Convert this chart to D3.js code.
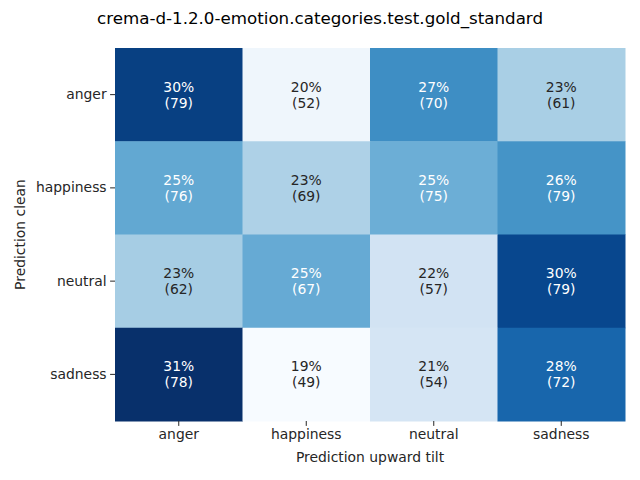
<!DOCTYPE html>
<html>
  <head>
    <meta charset="utf-8">
    <script src="https://d3js.org/d3.v7.min.js"></script>
    <style>
      body { margin: 0; background: #fff; }
      text { font-family: "DejaVu Sans", sans-serif; }
    </style>
  </head>
  <body>
    <script type="text/javascript">
      // categories (rows = Prediction clean, columns = Prediction upward tilt)
      var rowLabels = ["anger", "happiness", "neutral", "sadness"];
      var colLabels = ["anger", "happiness", "neutral", "sadness"];

      // counts read from the cells
      var countsAnger     = [79, 52, 70, 61];
      var countsHappiness = [76, 69, 75, 79];
      var countsNeutral   = [62, 67, 57, 79];
      var countsSadness   = [78, 49, 54, 72];
      var counts = [countsAnger, countsHappiness, countsNeutral, countsSadness];

      var titleText = "crema-d-1.2.0-emotion.categories.test.gold_standard";
      var xLabelText = "Prediction upward tilt";
      var yLabelText = "Prediction clean";

      // matplotlib "Blues" stops
      var blues = ["#f7fbff", "#deebf7", "#c6dbef", "#9ecae1", "#6baed6",
                   "#4292c6", "#2171b5", "#08519c", "#08306b"];

      var width = 640, height = 480;
      var margin = {top: 48, right: 15, bottom: 59, left: 115};
      var w = width - margin.left - margin.right,
          h = height - margin.top - margin.bottom;

      var svg = d3.select("body").append("svg")
        .attr("width", width)
        .attr("height", height);

      var g = svg.append("g")
        .attr("transform", "translate(" + margin.left + "," + margin.top + ")");

      // row-normalised shares
      var cells = [];
      counts.forEach(function(row, i) {
        var total = d3.sum(row);
        row.forEach(function(c, j) {
          cells.push({row: rowLabels[i], col: colLabels[j], count: c, share: c / total});
        });
      });

      var x = d3.scaleBand().domain(colLabels).range([0, w]);
      var y = d3.scaleBand().domain(rowLabels).range([0, h]);

      var ext = d3.extent(cells, function(d) { return d.share; });
      var color = d3.scaleLinear()
        .domain(d3.range(blues.length).map(function(i) { return ext[0] + (ext[1] - ext[0]) * i / (blues.length - 1); }))
        .range(blues)
        .interpolate(d3.interpolateRgb)
        .clamp(true);

      function luminance(c) {
        var rgb = d3.rgb(c);
        var f = function(v) {
          v = v / 255;
          return v <= 0.03928 ? v / 12.92 : Math.pow((v + 0.055) / 1.055, 2.4);
        };
        return 0.2126 * f(rgb.r) + 0.7152 * f(rgb.g) + 0.0722 * f(rgb.b);
      }

      g.selectAll("rect.cell")
        .data(cells)
        .enter().append("rect")
        .attr("class", "cell")
        .attr("x", function(d) { return x(d.col); })
        .attr("y", function(d) { return y(d.row); })
        .attr("width", x.bandwidth() + 0.5)
        .attr("height", y.bandwidth() + 0.5)
        .attr("fill", function(d) { return color(d.share); });

      var labels = g.selectAll("text.annot")
        .data(cells)
        .enter().append("text")
        .attr("class", "annot")
        .attr("text-anchor", "middle")
        .style("font-size", "13.9px")
        .attr("fill", function(d) { return luminance(color(d.share)) > 0.408 ? "#262626" : "#ffffff"; });

      labels.append("tspan")
        .attr("x", function(d) { return x(d.col) + x.bandwidth() / 2; })
        .attr("y", function(d) { return y(d.row) + y.bandwidth() / 2 - 3; })
        .text(function(d) { return Math.round(d.share * 100) + "%"; });

      labels.append("tspan")
        .attr("x", function(d) { return x(d.col) + x.bandwidth() / 2; })
        .attr("y", function(d) { return y(d.row) + y.bandwidth() / 2 + 13; })
        .text(function(d) { return "(" + d.count + ")"; });

      // axes
      var xAxis = g.append("g")
        .attr("transform", "translate(0," + h + ")")
        .call(d3.axisBottom(x).tickSize(4.9).tickPadding(3.5));
      var yAxis = g.append("g")
        .call(d3.axisLeft(y).tickSize(4.9).tickPadding(3.5));

      [xAxis, yAxis].forEach(function(ax) {
        ax.select(".domain").remove();
        ax.selectAll(".tick line").attr("stroke", "#262626").attr("stroke-width", 1);
        ax.selectAll(".tick text")
          .attr("fill", "#262626")
          .style("font-size", "13.9px")
          .style("font-family", "DejaVu Sans, sans-serif");
      });

      svg.append("text")
        .attr("x", margin.left + w / 2)
        .attr("y", 462)
        .attr("text-anchor", "middle")
        .attr("fill", "#262626")
        .style("font-size", "13.9px")
        .text(xLabelText);

      svg.append("text")
        .attr("transform", "translate(25," + (margin.top + h / 2) + ") rotate(-90)")
        .attr("text-anchor", "middle")
        .attr("fill", "#262626")
        .style("font-size", "13.9px")
        .text(yLabelText);

      svg.append("text")
        .attr("x", width / 2)
        .attr("y", 24)
        .attr("text-anchor", "middle")
        .attr("fill", "#000")
        .style("font-size", "16.7px")
        .text(titleText);
    </script>
  </body>
</html>
